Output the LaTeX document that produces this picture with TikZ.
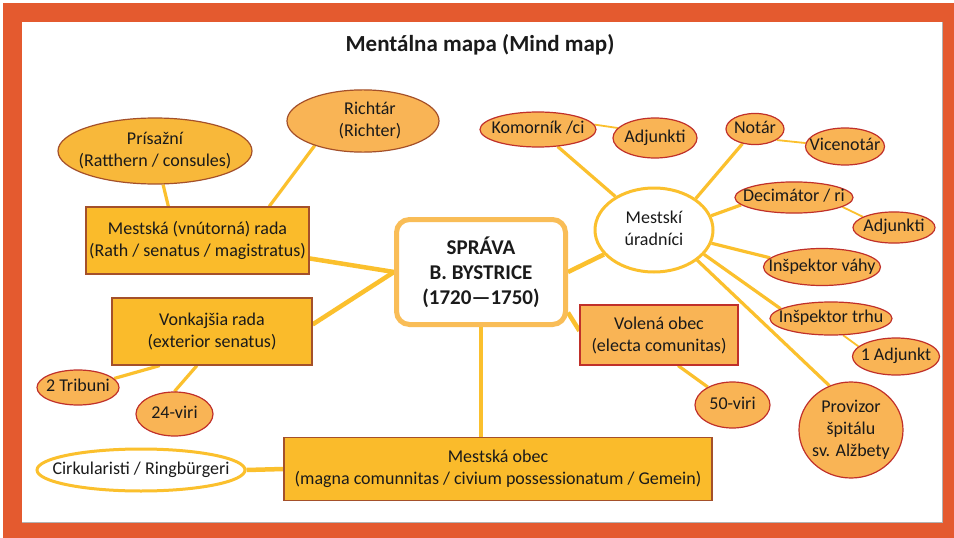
\documentclass[tikz,border=0pt]{standalone}
\usepackage{fontspec}
\setmainfont{Carlito}
\newcommand\dg[1]{#1}
\usetikzlibrary{shapes.geometric,calc}
\pgfdeclarelayer{bg}
\pgfsetlayers{bg,main}
\definecolor{frameor}{HTML}{E45A2F}
\definecolor{goldfill}{HTML}{FABB2B}
\definecolor{brownb}{HTML}{A4502A}
\definecolor{lightor}{HTML}{F9B455}
\definecolor{redb}{HTML}{C0302A}
\definecolor{prisfill}{HTML}{F8B83A}
\definecolor{conncol}{HTML}{FBC02D}
\definecolor{cbord}{HTML}{F9BD57}
\definecolor{txt}{HTML}{1A1A1A}
\newcommand\zt[1]{\makebox[0pt]{\begin{tabular}{@{}c@{}}#1\end{tabular}}}
\tikzset{
  base/.style={inner sep=0pt, text=txt, font=\fontsize{18}{22}\selectfont},
  gbox/.style={base, rectangle, fill=goldfill, draw=brownb, line width=1.2pt, align=center},
  obox/.style={base, rectangle, fill=lightor, draw=redb, line width=1.2pt, align=center},
  oell/.style={base, ellipse, fill=lightor, draw=redb, line width=1.2pt},
  bell/.style={base, ellipse, fill=lightor, draw=brownb, line width=1.2pt},
  well/.style={base, ellipse, fill=white, draw=conncol, line width=3pt},
  cbox/.style={base, rectangle, rounded corners=13pt, fill=white, draw=cbord, line width=5pt, align=center,
     font=\fontsize{21}{25}\selectfont\bfseries},
  connA/.style={draw=conncol, line width=4.5pt},
  connB/.style={draw=conncol, line width=3.2pt},
  connC/.style={draw=conncol, line width=1.8pt},
}
\begin{document}
\begin{tikzpicture}[x=1pt,y=-1pt]
\useasboundingbox (0,0) rectangle (954,538);
% title
\node[base, font=\fontsize{23}{26}\selectfont\bfseries] (title) at (480,45) {Mentálna mapa (Mind map)};
% central
\node[cbox, minimum width=169pt, minimum height=105pt] (cb) at (481,272) {SPRÁVA\\B. BYSTRICE\\(\dg{1720}—\dg{1750})};
% left
\node[gbox, minimum width=223pt, minimum height=67pt] (rada) at (197.5,240.5) {Mestská (vnútorná) rada\\(Rath / senatus / magistratus)};
\node[bell, fill=prisfill, minimum width=194pt, minimum height=66pt] (pris) at (155,151) {\zt{Prísažní\\(Ratthern / consules)}};
\node[bell, minimum width=152pt, minimum height=62pt] (rich) at (363,121) {\hspace*{14pt}\zt{Richtár\\(Richter)}};
\node[gbox, minimum width=200pt, minimum height=67pt] (vonk) at (212,331.5) {Vonkajšia rada\\(exterior senatus)};
\node[oell, minimum width=82pt, minimum height=35pt] (trib) at (78,387.5) {\zt{\dg{2} Tribuni}};
\node[oell, minimum width=77pt, minimum height=44pt] (viri) at (174.5,414) {\zt{\dg{24}-viri}};
\node[gbox, minimum width=428pt, minimum height=63pt] (mob) at (498,469) {Mestská obec\\(magna comunnitas / civium possessionatum / Gemein)};
\node[well, minimum width=208pt, minimum height=42pt] (circ) at (141,470) {\zt{Cirkularisti / Ringbürgeri}};
% right
\node[obox, minimum width=158pt, minimum height=60pt] (vol) at (659,335) {Volená obec\\(electa comunitas)};
\node[oell, minimum width=75pt, minimum height=46pt] (fifty) at (732.5,405) {\zt{\dg{50}-viri}};
\node[well, minimum width=118pt, minimum height=84pt] (ur) at (654,230) {\zt{Mestskí\\úradníci}};
\node[oell, minimum width=116pt, minimum height=35pt] (kom) at (538,129.5) {\zt{Komorník /ci}};
\node[oell, minimum width=84pt, minimum height=40pt] (adja) at (655,138) {\zt{Adjunkti}};
\node[oell, minimum width=58pt, minimum height=29pt] (notar) at (755,129) {\zt{Notár}};
\node[oell, minimum width=79pt, minimum height=37pt] (vice) at (845,146.5) {\zt{Vicenotár}};
\node[oell, minimum width=118pt, minimum height=31pt] (dec) at (794,197.5) {\zt{Decimátor / ri}};
\node[oell, minimum width=82pt, minimum height=31pt] (adjb) at (894,227.5) {\zt{Adjunkti}};
\node[oell, minimum width=117pt, minimum height=37pt] (vahy) at (822,267) {\zt{Inšpektor váhy}};
\node[oell, minimum width=122pt, minimum height=33pt] (trhu) at (831,318.5) {\zt{Inšpektor trhu}};
\node[oell, minimum width=87pt, minimum height=37pt] (adjc) at (896,356.5) {\zt{\dg{1} Adjunkt}};
\node[oell, minimum width=104pt, minimum height=96pt] (prov) at (851,430) {\zt{Provizor\\špitálu\\sv. Alžbety}};
\begin{pgfonlayer}{bg}
\fill[white] (0,0) rectangle (954,538);
\fill[frameor] (3,3) rectangle (954,538);
\fill[white] (22,22) rectangle (942,522);
\draw[color=black!30, line width=0.8pt] (22,522) -- (942,522) -- (942,22);
% connectors
\draw[connA] (cb.west) -- (rada);
\draw[connA] (cb.west) -- (vonk.4);
\draw[connA] (cb.south) -- (cb.south |- mob.north);
\draw[connA] (cb.east) -- (ur);
\draw[connA] (cb.-25) -- (vol.177);
\draw[connB] ($(rada.north west)!0.37!(rada.north east)$) -- (pris);
\draw[connB] ($(rada.north west)!0.82!(rada.north east)$) -- (rich.207);
\draw[connB] ($(vonk.south west)!0.24!(vonk.south east)$) -- (trib.14);
\draw[connB] ($(vonk.south west)!0.425!(vonk.south east)$) -- (viri.north);
\draw[connA] (circ.east) -- (mob.west);
\draw[connB] ($(vol.south west)!0.62!(vol.south east)$) -- (fifty.144);
\draw[connB] (ur) -- (kom);
\draw[connC] (kom.5) -- (adja.165);
\draw[connB] (ur.37) -- (notar);
\draw[connC] (notar.-27) -- (vice.175);
\draw[connB] (ur.14) -- (dec.188);
\draw[connC] (dec.-11) -- (adjb.161);
\draw[connB] (ur.-13) -- (vahy.170);
\draw[connB] (ur.-26) -- (trhu.169);
\draw[connC] (trhu.-54) -- (adjc.165);
\draw[connB] (ur.-35) -- (prov.116);
\end{pgfonlayer}
\end{tikzpicture}
\end{document}
